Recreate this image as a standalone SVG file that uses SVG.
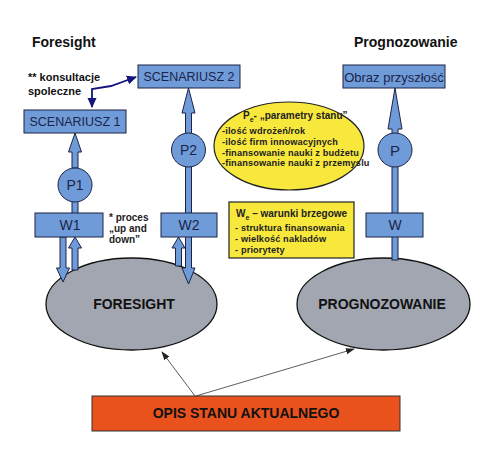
<svg xmlns="http://www.w3.org/2000/svg" width="480" height="450" viewBox="0 0 480 450">
<defs>
<style>
.t{font-family:"Liberation Sans",Arial,sans-serif;}
.title{font-size:14px;font-weight:bold;fill:#111;}
.note{font-size:11px;font-weight:bold;fill:#111;}
.small{font-size:10px;font-weight:bold;fill:#222;}
.bx{fill:#6f9bd9;stroke:#1d2345;stroke-width:1;}
.bt{font-size:12.5px;fill:#1c2448;}
.ct{font-size:14px;fill:#1c2448;}
.blk{fill:#6f9bd9;stroke:#1d2345;stroke-width:1;stroke-linejoin:miter;}
.yel{fill:#f8e83c;stroke:#222;stroke-width:1.2;}
.yt{font-size:9.2px;font-weight:bold;fill:#222;letter-spacing:0.15px;}
.yh{font-size:10px;font-weight:bold;fill:#222;}
.grey{fill:#a2a6b1;stroke:#111;stroke-width:1.3;}
.gt{font-size:14px;font-weight:bold;fill:#111;}
.thin{fill:none;stroke:#333;stroke-width:0.8;}
.navy{fill:none;stroke:#14147a;stroke-width:1.8;}
</style>
<marker id="ah" viewBox="0 0 10 10" refX="9" refY="5" markerWidth="9" markerHeight="9" markerUnits="userSpaceOnUse" orient="auto"><path d="M0,1.5 L10,5 L0,8.5 Z" fill="#222"/></marker>
<marker id="nv" viewBox="0 0 10 10" refX="9" refY="5" markerWidth="10" markerHeight="10" markerUnits="userSpaceOnUse" orient="auto-start-reverse"><path d="M0,0.5 L10,5 L0,9.5 Z" fill="#14147a"/></marker>
</defs>
<rect width="480" height="450" fill="#ffffff"/>

<text class="t title" x="32" y="47">Foresight</text>
<text class="t title" x="354" y="47">Prognozowanie</text>
<text class="t note" x="28" y="81">** konsultacje</text>
<text class="t note" x="28" y="95">spoleczne</text>
<text class="t small" x="109" y="221">* proces</text>
<text class="t small" x="109" y="232">„up and</text>
<text class="t small" x="109" y="243">down”</text>

<g id="ellipse-foresight"><ellipse class="grey" cx="131.5" cy="304" rx="85.5" ry="46"/><text class="t gt" x="134" y="309" text-anchor="middle">FORESIGHT</text></g>
<g id="ellipse-prognozowanie"><ellipse class="grey" cx="383.5" cy="304" rx="86.5" ry="46"/><text class="t gt" x="382" y="309" text-anchor="middle">PROGNOZOWANIE</text></g>

<g id="connectors">
<path class="blk" d="M75,133 L81.5,152 L78,152 L78,168 L72,168 L72,152 L68.5,152 Z"/>
<rect class="blk" x="72" y="200" width="6" height="14"/>
<path class="blk" d="M60,237 L66,237 L66,268 L69.5,268 L63,282 L56.5,268 L60,268 Z"/>
<path class="blk" d="M75,237 L81.5,248 L78,248 L78,270 L72,270 L72,248 L68.5,248 Z"/>
<path class="blk" d="M188.5,88 L195,113 L191.5,113 L191.5,134 L185.5,134 L185.5,113 L182,113 Z"/>
<path class="blk" d="M185.5,166 L191.5,166 L191.5,268 L195,268 L188.5,284 L182,268 L185.5,268 Z"/>
<path class="blk" d="M178.5,237 L185,248 L181.5,248 L181.5,266 L175.5,266 L175.5,248 L172,248 Z"/>
<path class="blk" d="M395,88 L402,129 L398,129 L398,134 L392,134 L392,129 L388,129 Z"/>
<rect class="blk" x="392" y="165" width="6" height="95"/>
<path class="navy" d="M92,107 L92,89 L111,86 L136,77" marker-start="url(#nv)" marker-end="url(#nv)"/>
<line class="thin" x1="195" y1="396" x2="162" y2="352" marker-end="url(#ah)"/>
<line class="thin" x1="196" y1="396" x2="354" y2="349" marker-end="url(#ah)"/>
</g>

<g id="scenariusz1"><rect class="bx" x="24" y="110" width="102" height="23"/><text class="t bt" x="75" y="126" text-anchor="middle">SCENARIUSZ 1</text></g>
<g id="scenariusz2"><rect class="bx" x="138" y="65" width="102" height="23"/><text class="t bt" x="189" y="81" text-anchor="middle">SCENARIUSZ 2</text></g>
<g id="obraz"><rect class="bx" x="343" y="65" width="102" height="23"/><text class="t bt" x="394" y="81.5" text-anchor="middle" style="font-size:13px">Obraz przyszłość</text></g>

<g id="p1"><circle class="bx" cx="75" cy="185" r="17"/><text class="t ct" x="75" y="190" text-anchor="middle">P1</text></g>
<g id="p2"><circle class="bx" cx="188.5" cy="150" r="17"/><text class="t ct" x="188.5" y="155" text-anchor="middle">P2</text></g>
<g id="p"><circle class="bx" cx="395" cy="150" r="17"/><text class="t ct" x="395" y="155.5" text-anchor="middle" style="font-size:15px">P</text></g>

<g id="w1"><rect class="bx" x="35" y="213" width="68" height="24"/><text class="t ct" x="70" y="230" text-anchor="middle">W1</text></g>
<g id="w2"><rect class="bx" x="161" y="213" width="56" height="24"/><text class="t ct" x="189" y="230" text-anchor="middle">W2</text></g>
<g id="w"><rect class="bx" x="366" y="213" width="57" height="24"/><text class="t ct" x="395" y="230" text-anchor="middle">W</text></g>

<g id="parametry">
<ellipse class="yel" cx="289" cy="146" rx="75" ry="44"/>
<text class="t yh" x="243" y="119">P<tspan dy="3" font-size="7">e</tspan><tspan dy="-3">- „parametry stanu”</tspan></text>
<text class="t yt" x="222" y="134">-ilość wdrożeń/rok</text>
<text class="t yt" x="222" y="145">-ilość firm innowacyjnych</text>
<text class="t yt" x="222" y="155.5">-finansowanie nauki z budżetu</text>
<text class="t yt" x="222" y="166">-finansowanie nauki z przemyslu</text>
</g>

<g id="warunki">
<rect class="yel" x="229" y="202" width="125" height="56"/>
<text class="t yh" x="236" y="217">W<tspan dy="3" font-size="7">e</tspan><tspan dy="-3"> – warunki brzegowe</tspan></text>
<text class="t yt" x="235" y="231">- struktura finansowania</text>
<text class="t yt" x="235" y="242">- wielkość nakladów</text>
<text class="t yt" x="235" y="253">- priorytety</text>
</g>

<g id="opis"><rect x="92" y="396" width="308" height="35" fill="#e9511d" stroke="#333" stroke-width="1"/><text class="t gt" x="246" y="418" text-anchor="middle">OPIS STANU AKTUALNEGO</text></g>
</svg>
